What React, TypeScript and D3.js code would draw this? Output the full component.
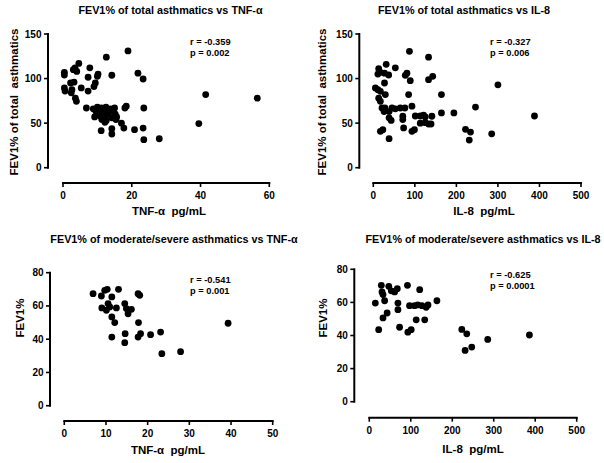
import React from "react";
import * as d3 from "d3";

// ---- Data ----
const totalTnf: [number, number][] = [
  [18.9, 131], [12.6, 124], [4.6, 117], [3.0, 110], [4.0, 108], [3.5, 112], [0.4, 107], [0.4, 104],
  [7.8, 112], [10.2, 105], [10.0, 102.6], [7.3, 101.5], [14.2, 103.7], [21.8, 106], [23.3, 99.5],
  [2.2, 95], [3.2, 96], [0.4, 89.5], [0.6, 86], [2.6, 87.5], [2.4, 84], [5.3, 89.5], [7.3, 86],
  [9.4, 95], [9.0, 91], [3.6, 78], [3.9, 74.5], [41.5, 82], [56.5, 78],
  [6.8, 67], [23.5, 67], [18, 67], [18.4, 69],
  [8.8, 66], [10, 68], [11.2, 67], [12.5, 68], [13.8, 66], [15, 67], [9.6, 63], [11, 64], [12.8, 63],
  [14.5, 64], [10.4, 60], [11.8, 61], [13.2, 60], [15.2, 60], [9.2, 57], [10.8, 58], [12.2, 57],
  [14.2, 56], [15.6, 57], [11.3, 54], [12.6, 53], [15.4, 54], [12.2, 51],
  [17, 50], [17.7, 44.5], [11.1, 41.5], [14.2, 43.8], [14.2, 37.8], [20.8, 42.7], [23.3, 44.5],
  [23.5, 31.4], [28, 32.5], [39.5, 49.5],
];

const totalIl8: [number, number][] = [
  [87, 130.6], [133, 124], [31, 116], [53, 112], [13, 111], [17, 107], [27, 106], [11, 105], [37, 104],
  [81, 106], [77, 103.6], [89, 97.6], [143, 102.5], [133, 98.8], [27, 95], [5, 89.5], [11, 87.5],
  [17, 85.7], [13, 78], [17, 74.5], [29, 82], [85, 82], [164, 82], [300, 93],
  [21, 67], [28, 67], [45, 67], [53, 66], [65, 67], [76, 67], [93, 69], [26, 63], [38, 63], [38, 56],
  [43, 53], [71, 57.7], [71, 54], [101, 58], [113, 58], [121, 59], [125, 57], [141, 57.7], [164, 61.4],
  [194, 61.4], [113, 50], [125, 50.5], [133, 49], [139, 49], [73, 44.6], [93, 40.8], [99, 42.6],
  [17, 40.8], [23, 42.6], [38, 32.6], [246, 68], [388, 58], [222, 43], [234, 40], [231, 31], [285, 38],
];

const modTnf: [number, number][] = [
  [6.9, 67.4], [8.9, 66], [9.7, 69.4], [10.3, 70], [13, 70], [11.4, 65.4], [17.7, 67.4], [18.1, 66.4],
  [9, 58.8], [10.5, 61.4], [10.9, 59.4], [10.1, 57.4], [12.5, 58.8], [14.5, 61.4], [14.9, 58.4],
  [15.3, 55.3], [16.1, 58], [11.4, 53.4], [12.1, 50], [17.8, 50], [11.4, 41.3], [14.6, 43.3],
  [14.5, 37.9], [17.7, 41.3], [18.3, 43.3], [20.7, 42.7], [23.1, 44.3], [23.4, 31.3], [27.9, 32.5],
  [39.3, 49.6],
];

const modIl8: [number, number][] = [
  [14.5, 59.6], [29, 70.3], [30.6, 66.3], [33, 64.7], [37, 61], [47, 69.7], [53, 67], [61, 66.3],
  [67.5, 68.3], [69, 59.6], [69, 55.6], [43, 53.6], [33, 50.6], [22.6, 43.5], [73, 45], [92, 70.3],
  [121.5, 67.7], [97, 58], [109, 58], [117, 58.5], [127, 58], [137, 57], [141.5, 58.5], [163, 61],
  [113, 49.5], [133.6, 49.5], [93, 42], [101, 43.5], [223, 43.7], [235, 41], [285.5, 37.6],
  [386, 40.3], [231, 31], [247, 33],
];

const titles = [
  "FEV1% of total asthmatics vs TNF-\u03b1",
  "FEV1% of total asthmatics vs IL-8",
  "FEV1% of moderate/severe asthmatics vs TNF-\u03b1",
  "FEV1% of moderate/severe asthmatics vs IL-8",
];
const xTitles = ["TNF-\u03b1  pg/mL", "IL-8  pg/mL", "TNF-\u03b1  pg/mL", "IL-8  pg/mL"];
const yTitles = ["FEV1% of total  asthmatics", "FEV1% of total  asthmatics", "FEV1%", "FEV1%"];
const rTexts = ["r = -0.359", "r = -0.327", "r = -0.541", "r = -0.625"];
const pTexts = ["p = 0.002", "p = 0.006", "p = 0.001", "p = 0.0001"];
const xTicksTnf60 = [0, 20, 40, 60];
const xTicksTnf50 = [0, 10, 20, 30, 40, 50];
const xTicksIl8 = [0, 100, 200, 300, 400, 500];
const yTicksTotal = [0, 50, 100, 150];
const yTicksMod = [0, 20, 40, 60, 80];

const FONT = "'Liberation Sans', Arial, sans-serif";

type Layout = {
  data: [number, number][];
  xDomain: [number, number];
  xTicks: number[];
  yDomain: [number, number];
  yTicks: number[];
  axisX: number; x0: number; x1: number; xAxisY: number;
  yTop: number; yBottom: number;
  titleX: number; titleY: number;
  xTitleX: number; xTitleY: number;
  yTitleX: number; yTitleY: number;
  rpX: number; rY: number; pY: number;
};

const layouts: Layout[] = [
  {
    data: totalTnf, xDomain: [0, 60], xTicks: xTicksTnf60, yDomain: [0, 150], yTicks: yTicksTotal,
    axisX: 48, x0: 63, x1: 269.3, xAxisY: 183, yTop: 34, yBottom: 167.7,
    titleX: 170.5, titleY: 14, xTitleX: 169, xTitleY: 214.5, yTitleX: 13.7, yTitleY: 102,
    rpX: 190, rY: 45, pY: 56,
  },
  {
    data: totalIl8, xDomain: [0, 500], xTicks: xTicksIl8, yDomain: [0, 150], yTicks: yTicksTotal,
    axisX: 359.3, x0: 373.3, x1: 581, xAxisY: 183, yTop: 34, yBottom: 167.7,
    titleX: 464, titleY: 14, xTitleX: 484, xTitleY: 214.5, yTitleX: 322, yTitleY: 102,
    rpX: 490, rY: 45, pY: 56,
  },
  {
    data: modTnf, xDomain: [0, 50], xTicks: xTicksTnf50, yDomain: [0, 80], yTicks: yTicksMod,
    axisX: 50, x0: 64.3, x1: 272.7, xAxisY: 421, yTop: 272.7, yBottom: 405.7,
    titleX: 174, titleY: 243, xTitleX: 168, xTitleY: 454, yTitleX: 19.5, yTitleY: 318,
    rpX: 190, rY: 282.5, pY: 293.5,
  },
  {
    data: modIl8, xDomain: [0, 500], xTicks: xTicksIl8, yDomain: [0, 80], yTicks: yTicksMod,
    axisX: 354.3, x0: 369.3, x1: 576.7, xAxisY: 417.7, yTop: 269.3, yBottom: 401.7,
    titleX: 483, titleY: 243, xTitleX: 473, xTitleY: 453, yTitleX: 322.5, yTitleY: 318,
    rpX: 490, rY: 277.5, pY: 289,
  },
];

function Panel({ L, i }: { L: Layout; i: number }) {
  const x = d3.scaleLinear().domain(L.xDomain).range([L.x0, L.x1]);
  const y = d3.scaleLinear().domain(L.yDomain).range([L.yBottom, L.yTop]);
  return (
    <g fontFamily={FONT} fontWeight="bold" fill="#000">
      <text x={L.titleX} y={L.titleY} textAnchor="middle" fontSize={10.8}>{titles[i]}</text>
      {/* y axis */}
      <line x1={L.axisX} x2={L.axisX} y1={y(L.yDomain[0]) + 1} y2={y(L.yDomain[1]) - 1} stroke="#000" strokeWidth={2} />
      {L.yTicks.map((t) => (
        <g key={"y" + t}>
          <line x1={L.axisX - 4} x2={L.axisX} y1={y(t)} y2={y(t)} stroke="#000" strokeWidth={1.6} />
          <text x={L.axisX - 6.5} y={y(t)} dy="0.35em" textAnchor="end" fontSize={10}>{t}</text>
        </g>
      ))}
      {/* x axis */}
      <line x1={x(L.xDomain[0]) - 1} x2={x(L.xDomain[1]) + 1} y1={L.xAxisY} y2={L.xAxisY} stroke="#000" strokeWidth={2} />
      {L.xTicks.map((t) => (
        <g key={"x" + t}>
          <line x1={x(t)} x2={x(t)} y1={L.xAxisY} y2={L.xAxisY + 4} stroke="#000" strokeWidth={1.6} />
          <text x={x(t)} y={L.xAxisY + 16} textAnchor="middle" fontSize={10}>{t}</text>
        </g>
      ))}
      <text x={L.xTitleX} y={L.xTitleY} textAnchor="middle" fontSize={11.5} style={{ whiteSpace: "pre" }}>{xTitles[i]}</text>
      <text
        transform={`translate(${L.yTitleX},${L.yTitleY}) rotate(-90)`}
        textAnchor="middle"
        dy="0.35em"
        fontSize={11.5}
        style={{ whiteSpace: "pre" }}
      >
        {yTitles[i]}
      </text>
      <text x={L.rpX} y={L.rY} fontSize={9.3}>{rTexts[i]}</text>
      <text x={L.rpX} y={L.pY} fontSize={9.3}>{pTexts[i]}</text>
      {L.data.map((d, k) => (
        <circle key={k} cx={x(d[0])} cy={y(d[1])} r={3.4} fill="#000" />
      ))}
    </g>
  );
}

export default function App() {
  return (
    <svg width={604} height={463} style={{ position: "absolute", left: 0, top: 0, background: "#fff" }}>
      <rect width={604} height={463} fill="#fff" />
      {layouts.map((L, i) => (
        <Panel key={i} L={L} i={i} />
      ))}
    </svg>
  );
}
